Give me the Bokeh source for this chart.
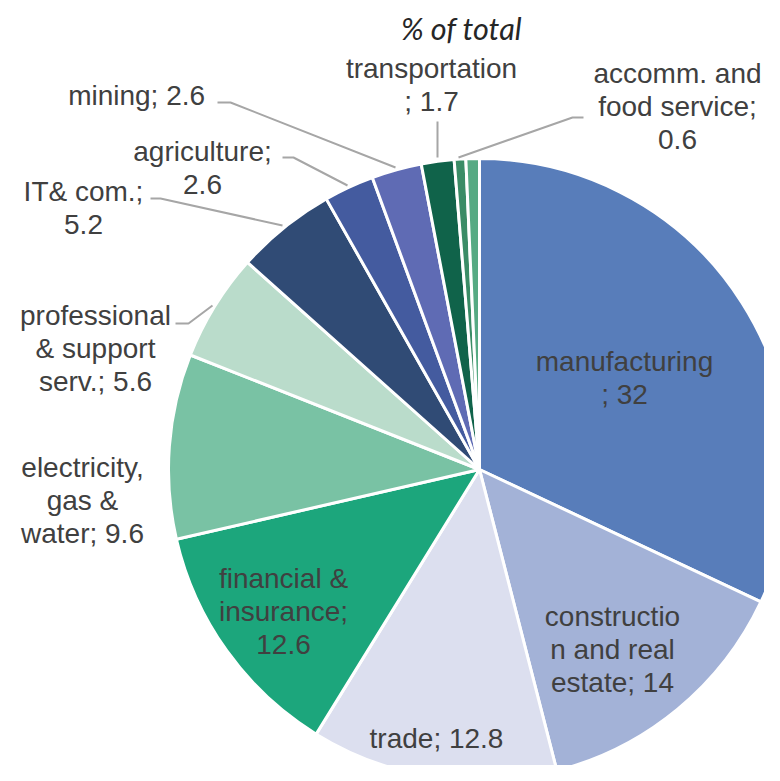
import math
from bokeh.plotting import figure
from bokeh.models import Range1d, ColumnDataSource
from bokeh.embed import file_html
from bokeh.resources import INLINE
from bokeh.core.properties import value

# ---------------- data ----------------
sectors = ["manufacturing", "construction and real estate", "trade",
           "financial & insurance", "electricity, gas & water",
           "professional & support serv.", "IT& com.", "agriculture",
           "mining", "transportation", "accomm. and food service", "other"]
shares = [32, 14, 12.8, 12.6, 9.6, 5.6, 5.2, 2.6, 2.6, 1.7, 0.6, 0.7]
slice_colors = ["#587dba", "#a3b2d7", "#dcdfef", "#1ca67c", "#79c2a4",
                "#badccb", "#304b75", "#445b9f", "#5f6bb4", "#10634a",
                "#3a8c66", "#56aa83"]
# wrapped label text as shown on the chart (None = unlabeled)
label_lines = [
    ["manufacturing", "; 32"],
    ["constructio", "n and real", "estate; 14"],
    ["trade; 12.8"],
    ["financial &", "insurance;", "12.6"],
    ["electricity,", "gas &", "water; 9.6"],
    ["professional", "& support", "serv.; 5.6"],
    ["IT& com.;", "5.2"],
    ["agriculture;", "2.6"],
    ["mining;  2.6"],
    ["transportation", "; 1.7"],
    ["accomm. and", "food service;", "0.6"],
    None,
]
title = "% of total"

# ---------------- layout (image pixel coordinates) ----------------
W, H = 764, 765
IMG_H = 781
def Y(py):
    return IMG_H - py

CX, CY, R = 479, 469, 311
LINE_H = 33
# center x, y of first line for each label
label_pos = [
    (624, 361), (612, 616), (436, 738), (283, 578), (82, 467),
    (95, 315), (83, 191), (202, 151), (140, 95), (431, 68),
    (677, 73), None,
]
leaders = [
    None, None, None, None, None,
    [(175, 323), (188, 323), (212, 305)],
    [(150, 198), (160, 198), (282, 225)],
    [(282, 157), (293, 157), (347, 185)],
    [(217, 102), (230, 102), (395, 167)],
    [(437, 121), (437, 157)],
    [(583, 117), (572, 117), (458, 157)],
    None,
]

# ---------------- figure ----------------
p = figure(width=W, height=H, output_backend="svg", toolbar_location=None,
           x_range=Range1d(0, W), y_range=Range1d(IMG_H - H, IMG_H),
           min_border=0, outline_line_color=None)
p.axis.visible = False
p.grid.visible = False
p.background_fill_color = "white"
p.border_fill_color = "white"

total = float(sum(shares))
starts, ends = [], []
cum = 0.0
for v in shares:
    starts.append(math.pi / 2 - 2 * math.pi * cum / total)
    cum += v
    ends.append(math.pi / 2 - 2 * math.pi * cum / total)

src = ColumnDataSource(dict(sector=sectors, share=shares, start=starts,
                            end=ends, color=slice_colors))
p.wedge(x=CX, y=Y(CY), radius=R, start_angle="start", end_angle="end",
        direction="clock", fill_color="color", line_color="white",
        line_width=3, source=src)

# leader lines
lx, ly = [], []
for ld in leaders:
    if ld:
        lx.append([pt[0] for pt in ld])
        ly.append([Y(pt[1]) for pt in ld])
p.multi_line(xs=lx, ys=ly, line_color="#a6a6a6", line_width=2)

# labels
tx, ty, tt = [], [], []
for lines, pos in zip(label_lines, label_pos):
    if not lines:
        continue
    for k, s in enumerate(lines):
        tx.append(pos[0])
        ty.append(Y(pos[1] + k * LINE_H))
        tt.append(s)
p.text(x=tx, y=ty, text=tt, text_align="center", text_baseline="middle",
       text_font=value("Liberation Sans"), text_font_size="28px",
       text_color="#404040")

p.text(x=[461], y=[Y(27)], text=[title], text_align="center",
       text_baseline="middle", text_font=value("Lato"),
       text_font_style="italic", text_font_size="30.5px", text_color="#262626")

open("out.html", "w").write(file_html(p, INLINE))
